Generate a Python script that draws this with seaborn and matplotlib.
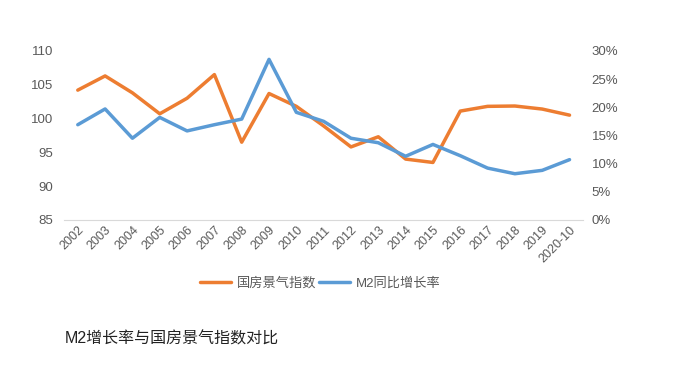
import matplotlib
matplotlib.use("Agg")
import matplotlib.pyplot as plt
import seaborn as sns
import pandas as pd
from matplotlib.ticker import PercentFormatter

# data
years = ["2002", "2003", "2004", "2005", "2006", "2007", "2008", "2009", "2010",
         "2011", "2012", "2013", "2014", "2015", "2016", "2017", "2018", "2019", "2020-10"]
guofang_index = [104.2, 106.3, 103.8, 100.7, 103.0, 106.5, 96.5, 103.7, 101.8,
                 98.9, 95.8, 97.3, 94.0, 93.5, 101.1, 101.8, 101.85, 101.4, 100.5]
m2_growth = [16.9, 19.7, 14.5, 18.2, 15.8, 16.9, 17.9, 28.5, 19.1,
             17.5, 14.5, 13.7, 11.3, 13.4, 11.4, 9.2, 8.2, 8.8, 10.7]

sns.set_style("white")
plt.rcParams["font.family"] = ["Liberation Sans", "Noto Sans CJK SC", "DejaVu Sans"]

df = pd.DataFrame({"pos": range(len(years)), "year": years,
                   "guofang": guofang_index, "m2": m2_growth})

orange = "#ED7D31"
blue = "#5B9BD5"
tick_col = "#595959"

fig = plt.figure(figsize=(6.75, 3.69), dpi=100)
ax = fig.add_axes([0.095, 0.404, 0.769, 0.458])
ax2 = ax.twinx()

sns.lineplot(data=df, x="pos", y="guofang", ax=ax, color=orange, linewidth=2.5,
             label="国房景气指数", legend=False)
sns.lineplot(data=df, x="pos", y="m2", ax=ax2, color=blue, linewidth=2.5,
             label="M2同比增长率", legend=False)

ax.set_ylim(85, 110)
ax.set_yticks([85, 90, 95, 100, 105, 110])
ax2.set_ylim(0, 30)
ax2.set_yticks([0, 5, 10, 15, 20, 25, 30])
ax2.yaxis.set_major_formatter(PercentFormatter(decimals=0))
ax.set_xlim(-0.5, len(years) - 0.5)
ax.set_xticks(df["pos"])
ax.set_xticklabels(years, rotation=45, ha="right", rotation_mode="anchor",
                   fontsize=9, color=tick_col)

for a in (ax, ax2):
    a.set_xlabel("")
    a.set_ylabel("")
    for s in a.spines.values():
        s.set_visible(False)
    a.tick_params(length=0, labelsize=9.5, labelcolor=tick_col)
ax.spines["bottom"].set_visible(True)
ax.spines["bottom"].set_color("#D9D9D9")
ax.tick_params(axis="y", pad=8)
ax2.tick_params(axis="y", pad=6)
ax.tick_params(axis="x", pad=3, labelsize=9)

h1, l1 = ax.get_legend_handles_labels()
h2, l2 = ax2.get_legend_handles_labels()
leg = fig.legend(h1 + h2, l1 + l2, loc="center", bbox_to_anchor=(0.475, 0.233), ncol=2,
                 frameon=False, fontsize=9.5, handlelength=2.3, columnspacing=0.2,
                 handletextpad=0.5, labelcolor=tick_col)

fig.text(0.096, 0.083, "M2增长率与国房景气指数对比", fontsize=11.5, color="#222222",
         va="center", ha="left")

fig.savefig("out.png", dpi=100)
